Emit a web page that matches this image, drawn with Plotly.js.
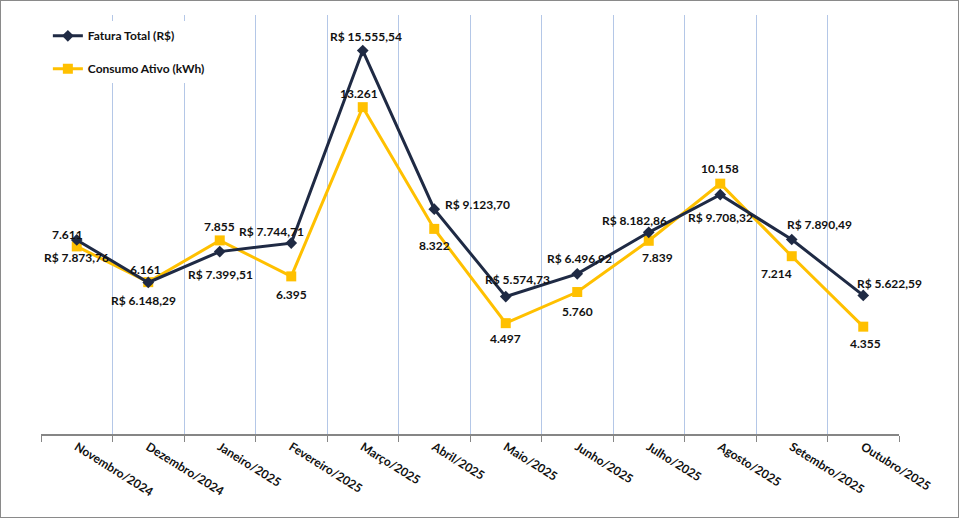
<!DOCTYPE html>
<html>
<head>
<meta charset="utf-8">
<script src="https://cdn.plot.ly/plotly-3.0.1.min.js"></script>
<style>
  html, body { margin: 0; padding: 0; background: #ffffff; }
  #chart { width: 957px; height: 516px; border: 1px solid #8a8a8a; }
</style>
</head>
<body>
<div id="chart"></div>
<script>
// ---- data ----
const months = ["Novembro/2024", "Dezembro/2024", "Janeiro/2025", "Fevereiro/2025", "Março/2025", "Abril/2025",
                "Maio/2025", "Junho/2025", "Julho/2025", "Agosto/2025", "Setembro/2025", "Outubro/2025"];
const faturaTotal = [7873.76, 6148.29, 7399.51, 7744.71, 15555.54, 9123.70, 5574.73, 6496.92, 8182.86, 9708.32, 7890.49, 5622.59];
const consumoAtivo = [7611, 6161, 7855, 6395, 13261, 8322, 4497, 5760, 7839, 10158, 7214, 4355];
const seriesNames = ["Fatura Total (R$)", "Consumo Ativo (kWh)"];

// ---- label placement (pixel offsets relative to each point) ----
const faturaLabelShift = [[0,-18],[-5,-18],[1,-23],[-20,12],[3,14],[43,5],[12,17],[2,15],[-14,12],[0,-23],[28,15],[26,12]];
const consumoLabelShift = [[-9,12],[-3,13],[0,14],[0,-18],[-4,14],[0,-17],[0,-15],[0,-19],[9,-17],[0,15],[-15,-17],[2,-17]];

function groupThousands(intStr) {
  return intStr.replace(/\B(?=(\d{3})+(?!\d))/g, ".");
}
function fmtBRL(v) {
  const parts = v.toFixed(2).split(".");
  return "R$ " + groupThousands(parts[0]) + "," + parts[1];
}
function fmtInt(v) {
  return groupThousands(Math.round(v).toString());
}

const NAVY = "#1F2A44";
const GOLD = "#FFC000";
const FONT = "Lato, 'Open Sans', sans-serif";

const traces = [
  {
    type: "scatter", mode: "lines+markers",
    x: months, y: consumoAtivo, name: seriesNames[1],
    legendgroup: "b", legendrank: 2,
    line: { color: GOLD, width: 3 },
    marker: { symbol: "square", size: 10, color: GOLD },
    hoverinfo: "skip"
  },
  {
    type: "scatter", mode: "lines+markers",
    x: months, y: faturaTotal, name: seriesNames[0],
    legendgroup: "a", legendrank: 1,
    line: { color: NAVY, width: 3 },
    marker: { symbol: "diamond", size: 9, color: NAVY },
    hoverinfo: "skip"
  }
];

const labelFont = { family: FONT, size: 12, color: "#111111", weight: "bold" };
const annotations = [];
months.forEach((m, i) => {
  annotations.push({
    x: m, y: consumoAtivo[i], xref: "x", yref: "y",
    text: fmtInt(consumoAtivo[i]), showarrow: false,
    xshift: consumoLabelShift[i][0], yshift: consumoLabelShift[i][1],
    font: labelFont
  });
  annotations.push({
    x: m, y: faturaTotal[i], xref: "x", yref: "y",
    text: fmtBRL(faturaTotal[i]), showarrow: false,
    xshift: faturaLabelShift[i][0], yshift: faturaLabelShift[i][1],
    font: labelFont
  });
});

const layout = {
  width: 957, height: 516,
  margin: { l: 40, r: 59, t: 14, b: 83 },
  paper_bgcolor: "#ffffff", plot_bgcolor: "#ffffff",
  font: { family: FONT, color: "#111111" },
  showlegend: true,
  legend: {
    x: 0.008, y: 0.985, xanchor: "left", yanchor: "top",
    bgcolor: "#ffffff", borderwidth: 0,
    traceorder: "grouped", tracegroupgap: 14,
    font: { family: FONT, size: 12, color: "#111111", weight: "bold" }
  },
  shapes: [{
    type: "rect", xref: "paper", yref: "paper",
    x0: -0.002, x1: 0.268, y0: 0.833, y1: 0.988,
    fillcolor: "#ffffff", line: { width: 0 }, layer: "between"
  }],
  xaxis: {
    type: "category",
    range: [-0.5, 11.5],
    tickson: "boundaries",
    ticks: "outside", ticklen: 6, tickcolor: "#868686", tickwidth: 1,
    showline: true, linecolor: "#868686", linewidth: 1.5,
    showgrid: true, gridcolor: "#b4c7e7", gridwidth: 1,
    tickangle: 32,
    tickfont: { family: FONT, size: 12, color: "#111111", weight: "bold" },
    fixedrange: true
  },
  yaxis: {
    range: [0, 17000],
    visible: false, showgrid: false, zeroline: false, fixedrange: true
  },
  annotations: annotations
};

Plotly.newPlot("chart", traces, layout, { displayModeBar: false, staticPlot: true });
</script>
</body>
</html>
